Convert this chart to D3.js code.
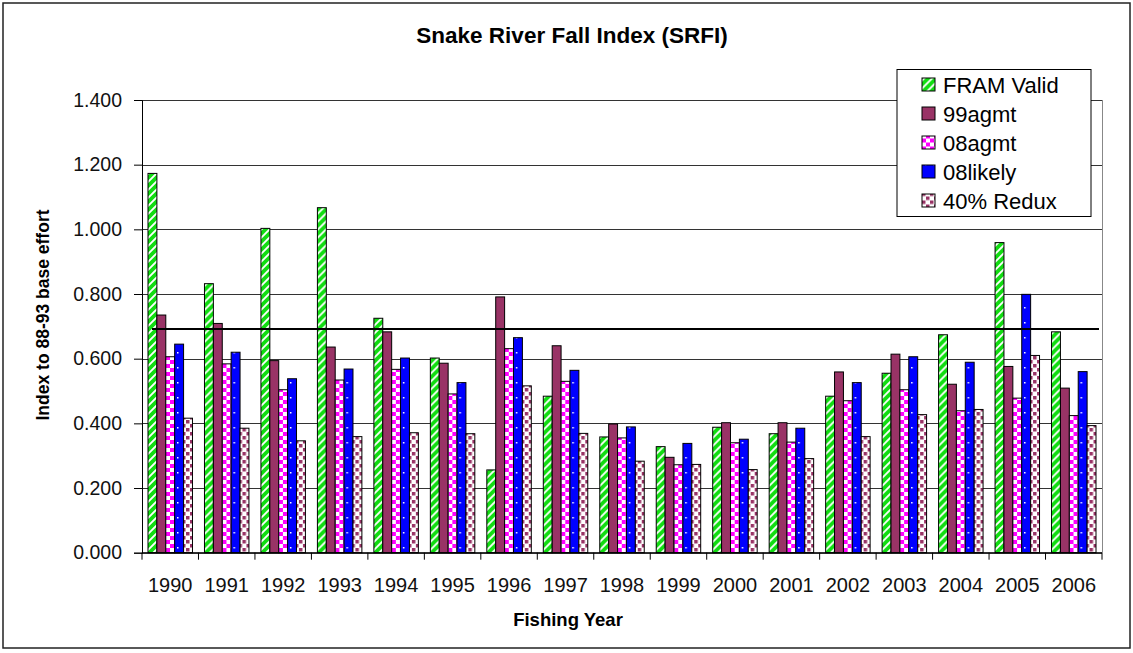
<!DOCTYPE html>
<html>
<head>
<meta charset="utf-8">
<script src="https://cdn.jsdelivr.net/npm/d3@7"></script>
<style>
  body { margin: 0; background: #fff; }
  svg { display: block; font-family: "Liberation Sans", Arial, sans-serif; }
</style>
</head>
<body>
<svg width="1133" height="653"></svg>
<script>
// values
var years = ["1990","1991","1992","1993","1994","1995","1996","1997","1998","1999","2000","2001","2002","2003","2004","2005","2006"];
var seriesNames = ["FRAM Valid", "99agmt", "08agmt", "08likely", "40% Redux"];
var framValid = [1.173, 0.832, 1.003, 1.067, 0.725, 0.602, 0.256, 0.484, 0.358, 0.328, 0.388, 0.368, 0.484, 0.555, 0.674, 0.959, 0.683];
var agmt99    = [0.735, 0.709, 0.594, 0.636, 0.683, 0.586, 0.791, 0.640, 0.398, 0.295, 0.402, 0.402, 0.559, 0.614, 0.521, 0.576, 0.509];
var agmt08    = [0.606, 0.584, 0.504, 0.534, 0.567, 0.491, 0.631, 0.530, 0.355, 0.272, 0.340, 0.342, 0.470, 0.504, 0.439, 0.478, 0.424];
var likely08  = [0.645, 0.620, 0.538, 0.568, 0.602, 0.526, 0.665, 0.564, 0.389, 0.338, 0.351, 0.385, 0.526, 0.606, 0.589, 0.799, 0.560];
var redux40   = [0.416, 0.385, 0.346, 0.359, 0.371, 0.368, 0.516, 0.369, 0.283, 0.273, 0.257, 0.291, 0.359, 0.427, 0.443, 0.610, 0.393];
var yTicks = [0, 0.2, 0.4, 0.6, 0.8, 1.0, 1.2, 1.4];
var refValue = 0.692;

var seriesValues = [framValid, agmt99, agmt08, likely08, redux40];
var fills = ["url(#pFram)", "#993366", "url(#pAgmt08)", "url(#pLikely)", "url(#pRedux)"];

window.onload = () => {

  var svg = d3.select("svg");

  var left = 142, right = 1102, top = 100, bottom = 552.7;

  //###############################################
  // patterns
  //###############################################
  var defs = svg.append("defs");

  var p = defs.append("pattern").attr("id", "pFram")
      .attr("patternUnits", "userSpaceOnUse").attr("width", 8).attr("height", 8);
  p.append("rect").attr("width", 8).attr("height", 8).attr("fill", "#fff");
  p.append("path").attr("d", "M0,8 L8,0 M-2,2 L2,-2 M6,10 L10,6")
      .attr("stroke", "#11dd11").attr("stroke-width", 3.8);

  p = defs.append("pattern").attr("id", "pAgmt08")
      .attr("patternUnits", "userSpaceOnUse").attr("width", 8).attr("height", 8);
  p.append("rect").attr("width", 8).attr("height", 8).attr("fill", "#ff00ff");
  p.append("rect").attr("width", 4).attr("height", 4).attr("fill", "#fff");
  p.append("rect").attr("x", 4).attr("y", 4).attr("width", 4).attr("height", 4).attr("fill", "#fff");

  p = defs.append("pattern").attr("id", "pLikely")
      .attr("patternUnits", "userSpaceOnUse").attr("width", 8).attr("height", 15);
  p.append("rect").attr("width", 8).attr("height", 15).attr("fill", "#0000ff");
  p.append("rect").attr("x", 3).attr("y", 7).attr("width", 1.5).attr("height", 1.5).attr("fill", "#fff");

  p = defs.append("pattern").attr("id", "pRedux")
      .attr("patternUnits", "userSpaceOnUse").attr("width", 8).attr("height", 8);
  p.append("rect").attr("width", 8).attr("height", 8).attr("fill", "#fff");
  p.append("rect").attr("x", 0).attr("y", 0).attr("width", 3.5).attr("height", 3.5).attr("fill", "#993366");
  p.append("rect").attr("x", 4).attr("y", 4).attr("width", 3.5).attr("height", 3.5).attr("fill", "#993366");

  //###############################################
  // frame
  //###############################################
  svg.append("rect")
      .attr("x", 3).attr("y", 3).attr("width", 1127).attr("height", 645)
      .attr("fill", "#fff").attr("stroke", "#222").attr("stroke-width", 1.5);

  //###############################################
  // scales
  //###############################################
  var x0 = d3.scaleBand().domain(years).range([left, right]).padding(0);
  var x1 = d3.scaleBand().domain(seriesNames).range([6, x0.bandwidth() - 6]).padding(0);
  var y = d3.scaleLinear().domain([0, 1.4]).range([bottom, top]);

  // grid
  svg.append("g")
    .selectAll("line")
    .data(yTicks)
    .enter().append("line")
      .attr("x1", left).attr("x2", right)
      .attr("y1", function(d) { return Math.round(y(d)) + 0.5; })
      .attr("y2", function(d) { return Math.round(y(d)) + 0.5; })
      .attr("stroke", "#333").attr("stroke-width", 1);

  svg.append("line")
      .attr("x1", right + 0.5).attr("x2", right + 0.5)
      .attr("y1", top).attr("y2", bottom)
      .attr("stroke", "#888");

  //###############################################
  // bars
  //###############################################
  var groups = svg.append("g")
    .selectAll("g")
    .data(years)
    .enter().append("g")
      .attr("transform", function(d) { return "translate(" + x0(d) + ",0)"; });

  groups.selectAll("rect")
    .data(function(d, i) { return seriesValues.map(function(s, k) { return {name: seriesNames[k], value: s[i], k: k}; }); })
    .enter().append("rect")
      .attr("x", function(d) { return x1(d.name); })
      .attr("y", function(d) { return y(d.value); })
      .attr("width", x1.bandwidth())
      .attr("height", function(d) { return y(0) - y(d.value); })
      .attr("fill", function(d) { return fills[d.k]; })
      .attr("stroke", "#000").attr("stroke-width", 1);

  // reference line
  svg.append("line")
      .attr("x1", x0(years[0]) + 10)
      .attr("x2", x0(years[years.length - 1]) + x0.bandwidth() - 3)
      .attr("y1", y(refValue)).attr("y2", y(refValue))
      .attr("stroke", "#000").attr("stroke-width", 2);

  //###############################################
  // axes
  //###############################################
  var yAxis = svg.append("g")
      .attr("transform", "translate(" + left + ",0)")
      .call(d3.axisLeft(y).tickValues(yTicks).tickFormat(d3.format(".3f")).tickSize(8).tickPadding(12));
  yAxis.select(".domain").attr("stroke", "#000");
  yAxis.selectAll(".tick line").attr("stroke", "#000");
  yAxis.selectAll("text").attr("font-size", 19.5).attr("fill", "#111")
      .attr("font-family", "Liberation Sans, Arial, sans-serif");

  var xAxis = svg.append("g")
      .attr("transform", "translate(0," + bottom + ")")
      .call(d3.axisBottom(x0).tickSize(0).tickPadding(0));
  xAxis.select(".domain").remove();
  xAxis.selectAll("text").attr("font-size", 20).attr("fill", "#111")
      .attr("y", 39).attr("dy", 0)
      .attr("font-family", "Liberation Sans, Arial, sans-serif");

  svg.append("line")
      .attr("x1", left).attr("x2", right)
      .attr("y1", bottom).attr("y2", bottom)
      .attr("stroke", "#000");

  // boundary ticks
  svg.append("g")
    .selectAll("line")
    .data(years.concat(["end"]))
    .enter().append("line")
      .attr("x1", function(d, i) { return left + i * x0.step(); })
      .attr("x2", function(d, i) { return left + i * x0.step(); })
      .attr("y1", bottom).attr("y2", bottom + 7)
      .attr("stroke", "#000");

  //###############################################
  // titles
  //###############################################
  svg.append("text")
      .attr("x", 572).attr("y", 43)
      .attr("text-anchor", "middle")
      .attr("font-size", 22.5).attr("font-weight", "bold")
      .text("Snake River Fall Index (SRFI)");

  svg.append("text")
      .attr("x", 568).attr("y", 626)
      .attr("text-anchor", "middle")
      .attr("font-size", 18.5).attr("font-weight", "bold")
      .text("Fishing Year");

  svg.append("text")
      .attr("transform", "translate(49,315) rotate(-90)")
      .attr("text-anchor", "middle")
      .attr("font-size", 17.5).attr("font-weight", "bold")
      .text("Index to 88-93 base effort");

  //###############################################
  // legend
  //###############################################
  var legend = svg.append("g").attr("transform", "translate(897,69.5)");
  legend.append("rect")
      .attr("width", 194).attr("height", 147)
      .attr("fill", "#fff").attr("stroke", "#000");

  var item = legend.selectAll("g.item")
    .data(seriesNames)
    .enter().append("g")
      .attr("class", "item")
      .attr("transform", function(d, i) { return "translate(25," + (15 + i * 29) + ")"; });

  item.append("rect")
      .attr("x", 0).attr("y", -6.5).attr("width", 13).attr("height", 13)
      .attr("fill", function(d, i) { return fills[i]; })
      .attr("stroke", "#000");

  item.append("text")
      .attr("x", 21).attr("y", 8)
      .attr("font-size", 22)
      .text(function(d) { return d; });
}
</script>
</body>
</html>
